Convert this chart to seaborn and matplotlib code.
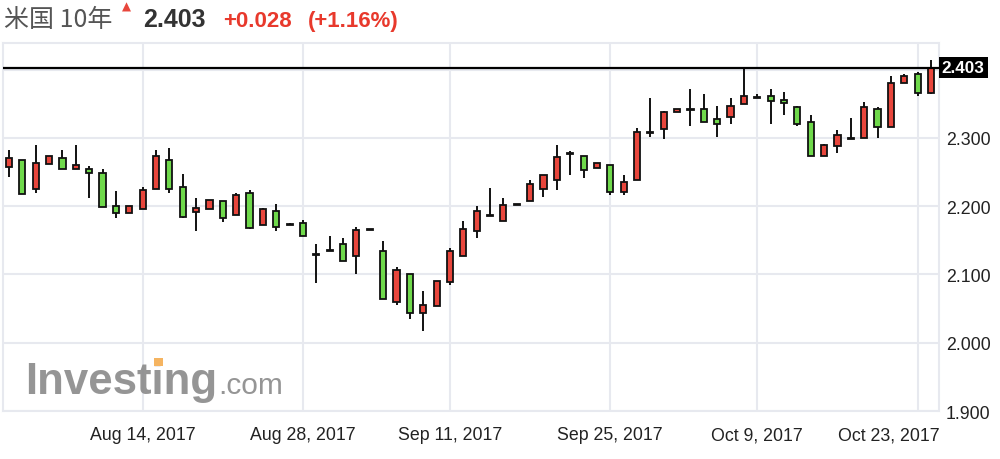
import numpy as np
import pandas as pd
import seaborn as sns
import matplotlib.pyplot as plt
from matplotlib.patches import Rectangle
from matplotlib.transforms import ScaledTranslation, blended_transform_factory

# US 10y yield candles (one entry per candle)
opens = [2.257, 2.268, 2.225, 2.262, 2.270, 2.255, 2.254, 2.249, 2.200, 2.190,
         2.196, 2.225, 2.268, 2.228, 2.192, 2.196, 2.207, 2.187, 2.219, 2.173,
         2.193, 2.174, 2.176, 2.128, 2.135, 2.144, 2.127, 2.165, 2.135, 2.059,
         2.101, 2.043, 2.054, 2.089, 2.127, 2.164, 2.186, 2.178, 2.202, 2.207,
         2.225, 2.239, 2.277, 2.274, 2.256, 2.261, 2.221, 2.239, 2.307, 2.313,
         2.338, 2.341, 2.342, 2.328, 2.330, 2.349, 2.358, 2.361, 2.356, 2.346,
         2.323, 2.274, 2.288, 2.299, 2.300, 2.342, 2.316, 2.381, 2.393, 2.366]
highs = [2.282, 2.268, 2.290, 2.273, 2.282, 2.290, 2.259, 2.254, 2.222, 2.200,
         2.228, 2.282, 2.285, 2.247, 2.212, 2.209, 2.207, 2.219, 2.224, 2.197,
         2.203, 2.176, 2.180, 2.144, 2.156, 2.154, 2.170, 2.165, 2.149, 2.111,
         2.101, 2.076, 2.090, 2.139, 2.179, 2.201, 2.227, 2.212, 2.202, 2.238,
         2.246, 2.290, 2.281, 2.274, 2.263, 2.261, 2.246, 2.315, 2.359, 2.340,
         2.342, 2.371, 2.364, 2.347, 2.359, 2.402, 2.364, 2.372, 2.367, 2.347,
         2.334, 2.291, 2.312, 2.329, 2.352, 2.345, 2.391, 2.393, 2.396, 2.414]
lows = [2.243, 2.218, 2.220, 2.262, 2.255, 2.255, 2.212, 2.199, 2.183, 2.190,
        2.196, 2.225, 2.220, 2.183, 2.164, 2.196, 2.177, 2.187, 2.166, 2.173,
        2.164, 2.172, 2.157, 2.087, 2.135, 2.120, 2.100, 2.165, 2.064, 2.056,
        2.035, 2.017, 2.054, 2.084, 2.127, 2.154, 2.186, 2.178, 2.202, 2.207,
        2.213, 2.223, 2.246, 2.241, 2.256, 2.216, 2.216, 2.239, 2.302, 2.298,
        2.338, 2.318, 2.323, 2.302, 2.320, 2.349, 2.358, 2.320, 2.333, 2.318,
        2.274, 2.274, 2.278, 2.298, 2.300, 2.300, 2.316, 2.381, 2.362, 2.364]
closes = [2.270, 2.218, 2.264, 2.273, 2.255, 2.261, 2.248, 2.199, 2.190, 2.200,
          2.224, 2.273, 2.225, 2.184, 2.198, 2.209, 2.183, 2.216, 2.168, 2.196,
          2.169, 2.173, 2.157, 2.128, 2.135, 2.120, 2.165, 2.165, 2.064, 2.106,
          2.043, 2.055, 2.090, 2.135, 2.167, 2.193, 2.186, 2.202, 2.202, 2.233,
          2.246, 2.272, 2.277, 2.253, 2.263, 2.221, 2.235, 2.309, 2.307, 2.338,
          2.342, 2.341, 2.323, 2.321, 2.347, 2.361, 2.358, 2.354, 2.351, 2.320,
          2.274, 2.289, 2.305, 2.299, 2.345, 2.316, 2.381, 2.391, 2.366, 2.403]

# candle index where each date label sits
tick_idx = [10, 22, 33, 45, 56, 68]
tick_labels = ["Aug 14, 2017", "Aug 28, 2017", "Sep 11, 2017",
               "Sep 25, 2017", "Oct 9, 2017", "Oct 23, 2017"]
ytick_vals = [1.9, 2.0, 2.1, 2.2, 2.3, 2.4]

last_price = 2.403
title_name = "米国 10年"
change = "+0.028"
change_pct = "(+1.16%)"

df = pd.DataFrame({"open": opens, "high": highs, "low": lows, "close": closes})
df["idx"] = np.arange(len(df))

UP = "#e8463c"
DOWN = "#6fd94b"
GRID = "#e7e9ef"

sns.set_theme(style="white")
plt.rcParams["font.family"] = ["Liberation Sans", "DejaVu Sans"]

fig = plt.figure(figsize=(10, 4.6), dpi=100)
ax = fig.add_axes([0.003, 0.1043, 0.936, 0.80])

# wicks then bodies
ax.vlines(df["idx"], df["low"], df["high"], color="#111111", lw=1.4, zorder=2)
body_bottom = df[["open", "close"]].min(axis=1)
body_height = (df["close"] - df["open"]).abs().clip(lower=0.0015)
colors = np.where(df["close"] >= df["open"], UP, DOWN)
ax.bar(df["idx"], body_height, bottom=body_bottom, width=0.46, color=colors,
       edgecolor="#111111", linewidth=1.3, zorder=3)

ax.set_xlim(-0.45, 69.6)
ax.set_ylim(1.9, 2.439)

ax.grid(True, color=GRID, lw=1.5)
ax.set_axisbelow(True)
for s in ax.spines.values():
    s.set_color(GRID)
    s.set_linewidth(1.5)

ax.set_xticks(tick_idx, tick_labels)
ax.set_yticks(ytick_vals, [f"{v:.3f}" for v in ytick_vals[:-1]] + [""])
ax.yaxis.tick_right()
ax.tick_params(axis="x", length=0, pad=11, labelsize=12.8, labelcolor="#222222")
ax.tick_params(axis="y", length=0, pad=5, labelsize=12.8, labelcolor="#222222")
for lab in ax.get_yticklabels():
    lab.set_horizontalalignment("left")

# last label kept inside the plot edge
last = ax.get_xticklabels()[-1]
last.set_horizontalalignment("right")
last.set_transform(last.get_transform() + ScaledTranslation(0.22, 0, fig.dpi_scale_trans))

# current price line and tag
ax.axhline(last_price, color="black", lw=1.6, zorder=4)
tr = blended_transform_factory(ax.transAxes, ax.transData)
ax.text(1.003, last_price, f"{last_price:.3f}", transform=tr, ha="left", va="center",
        color="white", fontsize=12.3, fontweight="bold", clip_on=False, zorder=6,
        bbox=dict(boxstyle="square,pad=0.18", fc="black", ec="none"))

# watermark
ax.text(0.0235, 0.05, "Investing", transform=ax.transAxes, fontsize=31.5,
        fontweight="bold", color="#8a8a8a", alpha=0.9, zorder=1)
ax.text(0.2297, 0.05, ".com", transform=ax.transAxes, fontsize=21.5,
        color="#8a8a8a", alpha=0.9, zorder=1)
ax.add_patch(Rectangle((0.1613, 0.122), 0.0095, 0.021, transform=ax.transAxes,
                       color="#f5b461", zorder=1, lw=0))

# header
yb = 1 - 27 / 460
fig.text(0.004, yb, title_name, fontsize=18, color="#555555", va="baseline",
         family=["Noto Sans CJK JP", "Liberation Sans"])
fig.text(0.1215, 1 - 11 / 460, "▲", fontsize=8.5, color="#e8463c", va="baseline",
         family=["DejaVu Sans"])
fig.text(0.143, yb, f"{last_price:.3f}", fontsize=18, fontweight="bold",
         color="#333333", va="baseline")
fig.text(0.223, yb, change, fontsize=16, fontweight="bold", color="#e8392c",
         va="baseline")
fig.text(0.308, yb, change_pct, fontsize=16, fontweight="bold", color="#e8392c",
         va="baseline")

fig.savefig("out.png", dpi=100)
